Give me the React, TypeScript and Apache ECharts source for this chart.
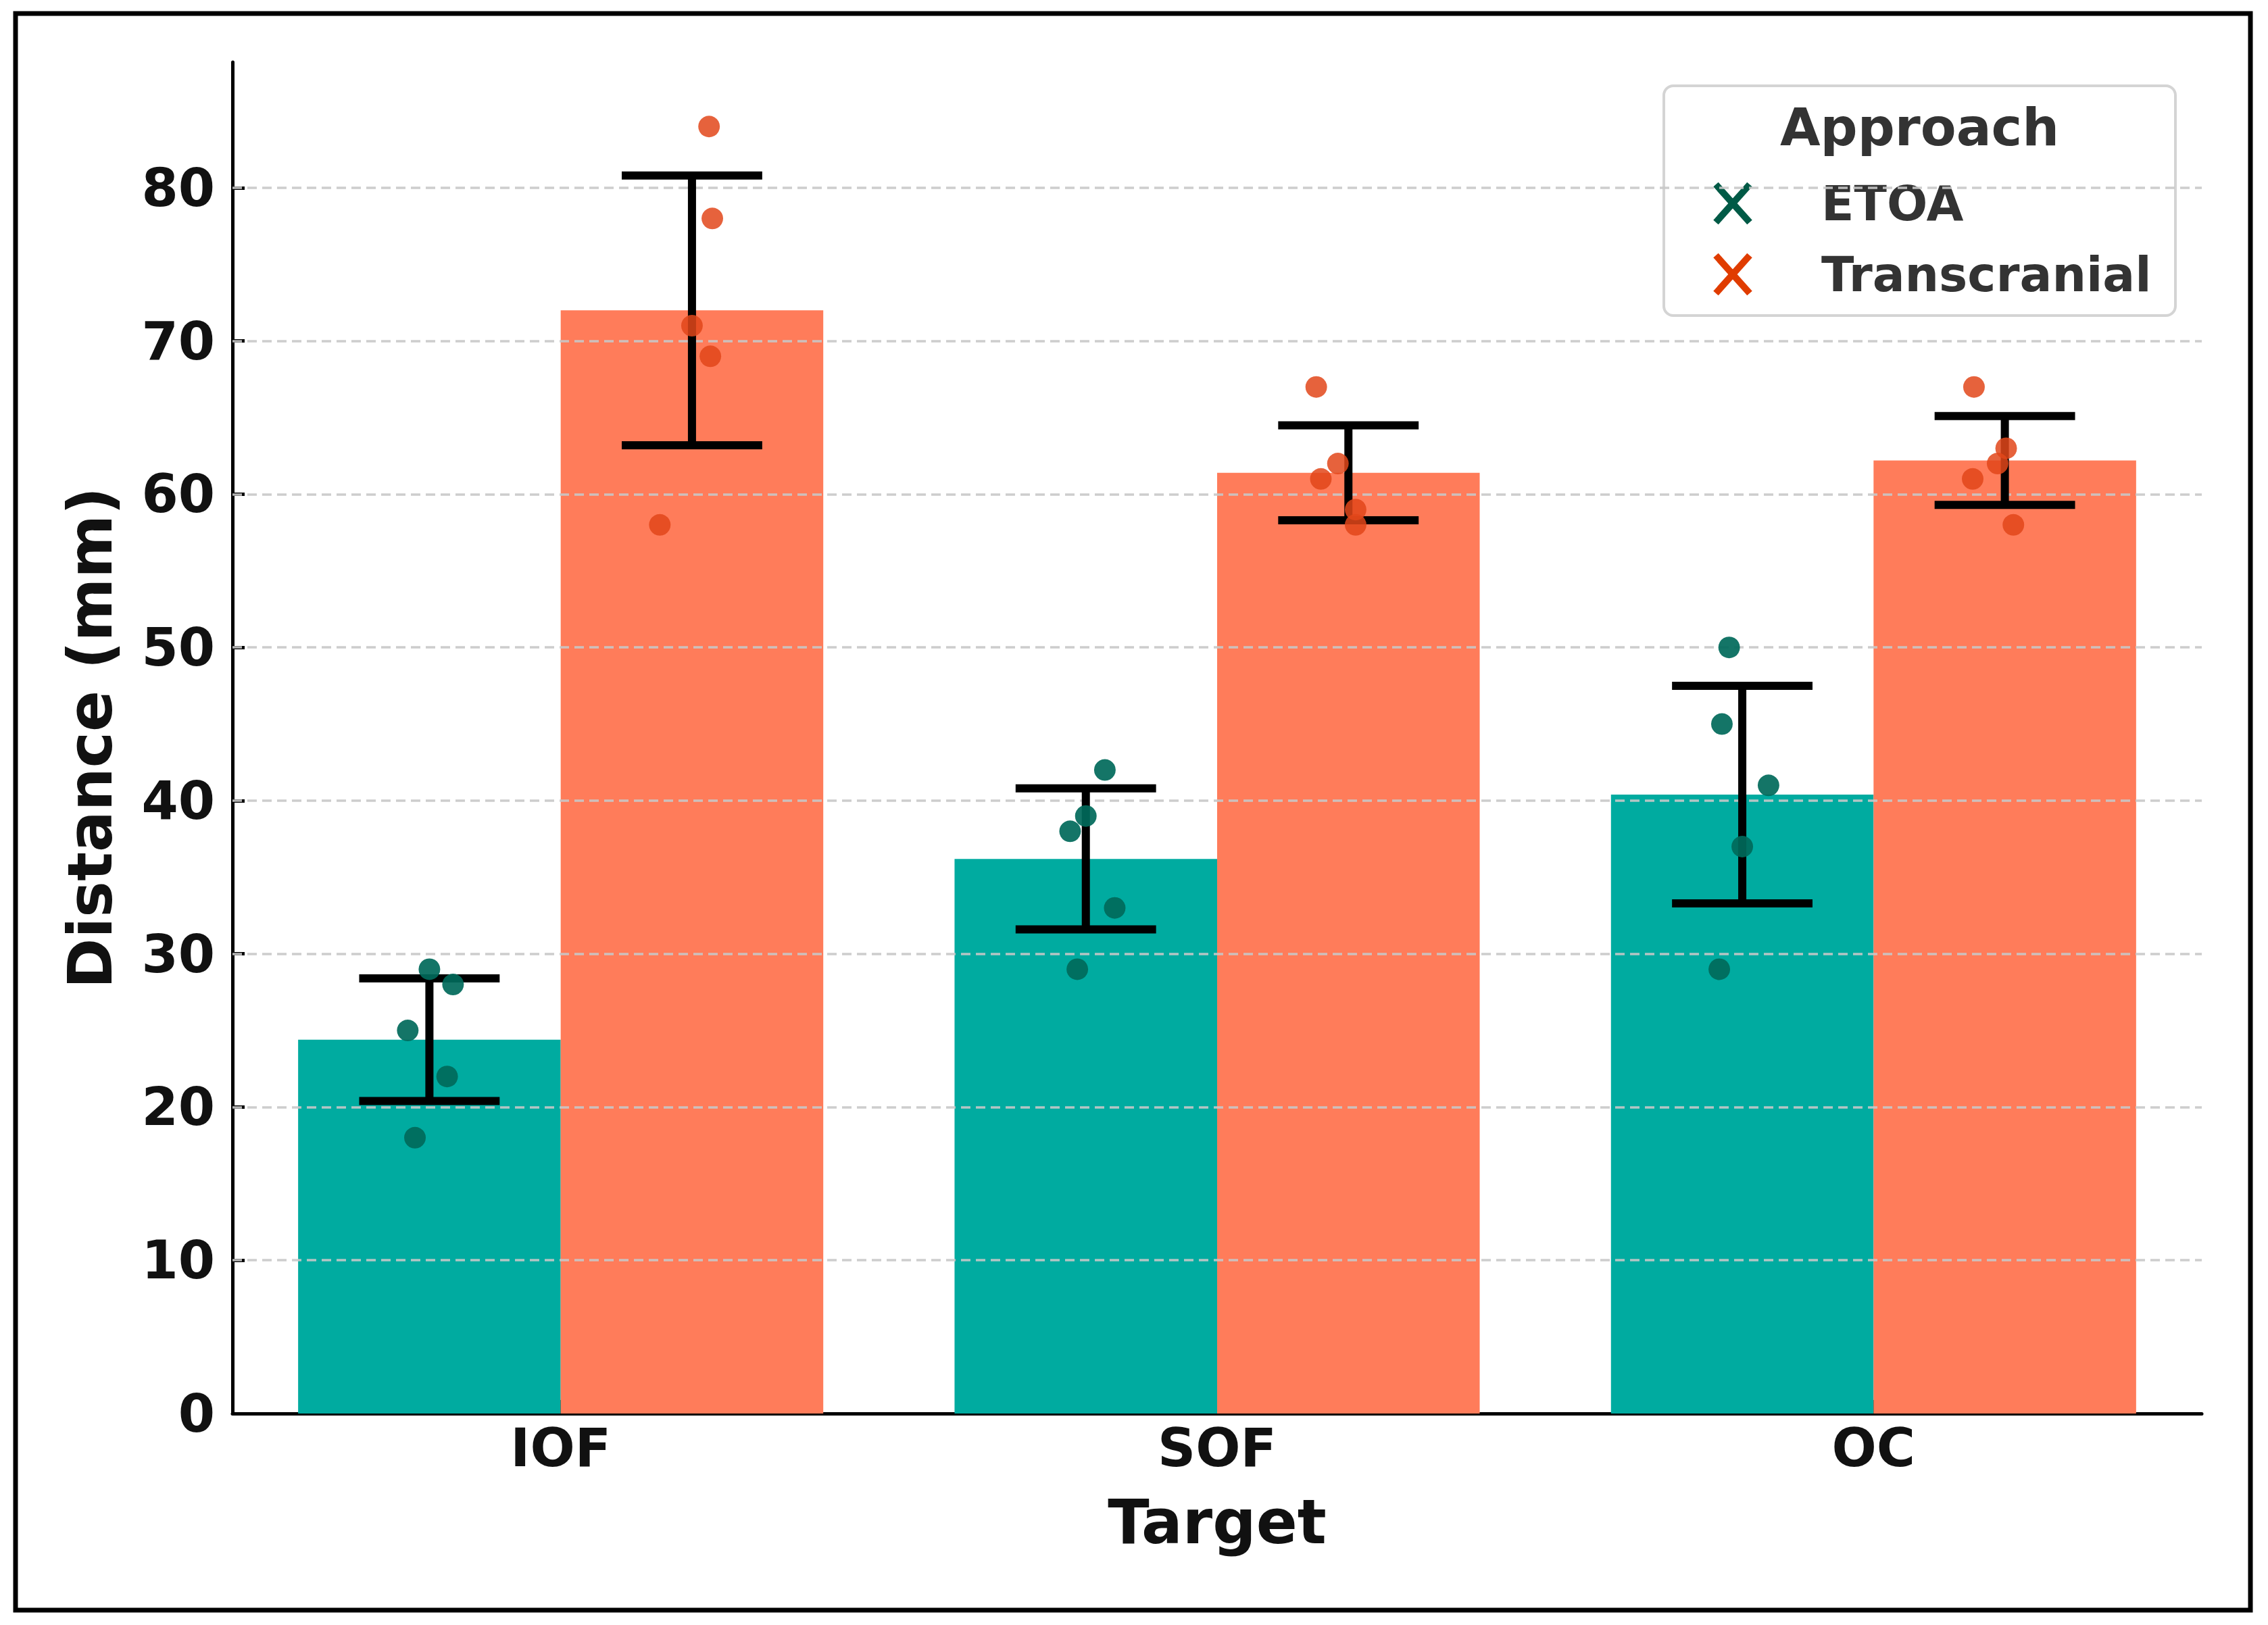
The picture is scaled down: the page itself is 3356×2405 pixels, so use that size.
import React, { useEffect, useRef } from "react";
import * as echarts from "echarts";

// ---- data ----
const categories = ["IOF", "SOF", "OC"];
const seriesNames = ["ETOA", "Transcranial"];
const etoaMean = [24.4, 36.2, 40.4];
const transMean = [72.0, 61.4, 62.2];
const etoaSd = [4.0, 4.6, 7.1];
const transSd = [8.8, 3.1, 2.9];
// individual observations: [x position in category units, value]
const etoaPoints: [number, number][] = [
  [-0.2, 29], [-0.164, 28], [-0.233, 25], [-0.173, 22], [-0.222, 18],
  [0.829, 42], [0.8, 39], [0.776, 38], [0.844, 33], [0.787, 29],
  [1.78, 50], [1.769, 45], [1.84, 41], [1.8, 37], [1.765, 29],
];
const transPoints: [number, number][] = [
  [0.226, 84], [0.231, 78], [0.2, 71], [0.228, 69], [0.151, 58],
  [1.151, 67], [1.184, 62], [1.158, 61], [1.211, 59], [1.211, 58],
  [2.153, 67], [2.202, 63], [2.189, 62], [2.151, 61], [2.213, 58],
];
const yTicks = [0, 10, 20, 30, 40, 50, 60, 70, 80];
const yMax = 88.2;

// ---- styling ----
const FONT = "DejaVu Sans";
const BAR_COLORS = ["#00ABA0", "#FF7C5A"];
const POINT_COLORS = ["#00695a", "#e2461a"];
const LEGEND_COLORS = ["#005a46", "#e03c00"];
const W = 3356;
const H = 2405;
const GRID = { left: 344, right: 98, top: 92, bottom: 313 };
const BAR_OFFSET = 0.2;
const CAP_HALF = 0.107;
const TICK_FONT = 78;

export default function App() {
  const ref = useRef<HTMLDivElement>(null);

  useEffect(() => {
    document.body.style.margin = "0";
    if (!ref.current) return;
    const chart = echarts.init(ref.current, null, { renderer: "svg", width: W, height: H });

    const errData = (means: number[], sds: number[], off: number) =>
      means.map((m, i) => [i + off, m - sds[i], m + sds[i]]);

    const renderErr = (params: any, api: any) => {
      const x = api.value(0);
      const lo = api.value(1);
      const hi = api.value(2);
      const top = api.coord([x, hi]);
      const bot = api.coord([x, lo]);
      const l = api.coord([x - CAP_HALF, hi])[0];
      const r = api.coord([x + CAP_HALF, hi])[0];
      const st = { stroke: "#000", lineWidth: 12, lineCap: "butt" };
      return {
        type: "group",
        children: [
          { type: "line", shape: { x1: top[0], y1: top[1], x2: bot[0], y2: bot[1] }, style: st },
          { type: "line", shape: { x1: l, y1: top[1], x2: r, y2: top[1] }, style: st },
          { type: "line", shape: { x1: l, y1: bot[1], x2: r, y2: bot[1] }, style: st },
        ],
      };
    };

    const gridLeft = GRID.left;
    const plotRight = W - GRID.right;
    const plotCenterX = (gridLeft + plotRight) / 2;
    const plotCenterY = (GRID.top + (H - GRID.bottom)) / 2;

    // legend layout
    const lg = { x: 2462, y: 127, w: 757, h: 340 };
    const markerX = 2564;
    const textX = 2695;
    const rowsY = [301, 406];
    const xHalf = 25;

    const legendChildren: any[] = [
      {
        type: "rect",
        shape: { x: lg.x, y: lg.y, width: lg.w, height: lg.h, r: 14 },
        style: { fill: "rgba(255,255,255,0.85)", stroke: "#d4d4d4", lineWidth: 4 },
      },
      {
        type: "text",
        style: {
          x: lg.x + lg.w / 2,
          y: 188,
          text: "Approach",
          fill: "#333333",
          font: `bold 77px "${FONT}"`,
          align: "center",
          verticalAlign: "middle",
        },
      },
    ];
    seriesNames.forEach((name, i) => {
      const cy = rowsY[i];
      const st = { stroke: LEGEND_COLORS[i], lineWidth: 10 };
      legendChildren.push(
        { type: "line", shape: { x1: markerX - xHalf, y1: cy - xHalf - 3, x2: markerX + xHalf, y2: cy + xHalf + 3 }, style: st },
        { type: "line", shape: { x1: markerX - xHalf, y1: cy + xHalf + 3, x2: markerX + xHalf, y2: cy - xHalf - 3 }, style: st },
        {
          type: "text",
          style: {
            x: textX,
            y: cy,
            text: name,
            fill: "#333333",
            font: `bold 71px "${FONT}"`,
            align: "left",
            verticalAlign: "middle",
          },
        }
      );
    });

    const option: any = {
      animation: false,
      backgroundColor: "#ffffff",
      grid: { ...GRID, containLabel: false },
      xAxis: [
        {
          type: "category",
          data: categories,
          axisLine: { show: true, onZero: false, lineStyle: { color: "#000", width: 5 } },
          axisTick: { show: true, inside: true, alignWithLabel: true, length: 20, lineStyle: { color: "#000", width: 5 } },
          axisLabel: {
            fontFamily: FONT,
            fontWeight: "bold",
            fontSize: TICK_FONT,
            color: "#111111",
            margin: 51,
            verticalAlign: "middle",
          },
          splitLine: { show: false },
        },
        {
          type: "value",
          min: -0.5,
          max: 2.5,
          show: false,
          splitLine: { show: false },
        },
      ],
      yAxis: {
        type: "value",
        min: 0,
        max: yMax,
        interval: 10,
        position: "left",
        axisLine: { show: true, onZero: false, lineStyle: { color: "#000", width: 5 } },
        axisTick: { show: true, inside: true, length: 18, lineStyle: { color: "#000", width: 5 }, customValues: yTicks },
        axisLabel: {
          fontFamily: FONT,
          fontWeight: "bold",
          fontSize: TICK_FONT,
          color: "#111111",
          margin: 26,
          customValues: yTicks,
        },
        splitLine: { show: false },
      },
      series: [
        {
          name: seriesNames[0],
          type: "bar",
          xAxisIndex: 0,
          data: etoaMean,
          barWidth: "40%",
          barGap: "0%",
          itemStyle: { color: BAR_COLORS[0] },
          z: 2,
        },
        {
          name: seriesNames[1],
          type: "bar",
          xAxisIndex: 0,
          data: transMean,
          barWidth: "40%",
          barGap: "0%",
          itemStyle: { color: BAR_COLORS[1] },
          z: 2,
        },
        {
          name: "grid",
          type: "scatter",
          xAxisIndex: 1,
          data: [],
          z: 3,
          silent: true,
          markLine: {
            silent: true,
            symbol: ["none", "none"],
            label: { show: false },
            lineStyle: { type: [14, 8], color: "rgba(200,200,200,0.9)", width: 3.5 },
            data: yTicks.filter((v) => v > 0).map((v) => ({ yAxis: v })),
            z: 3,
          },
        },
        {
          name: "err-etoa",
          type: "custom",
          xAxisIndex: 1,
          data: errData(etoaMean, etoaSd, -BAR_OFFSET),
          renderItem: renderErr,
          z: 4,
          silent: true,
        },
        {
          name: "err-trans",
          type: "custom",
          xAxisIndex: 1,
          data: errData(transMean, transSd, BAR_OFFSET),
          renderItem: renderErr,
          z: 4,
          silent: true,
        },
        {
          name: "pts-etoa",
          type: "scatter",
          xAxisIndex: 1,
          data: etoaPoints,
          symbolSize: 32,
          itemStyle: { color: POINT_COLORS[0], opacity: 0.92 },
          z: 5,
        },
        {
          name: "pts-trans",
          type: "scatter",
          xAxisIndex: 1,
          data: transPoints,
          symbolSize: 32,
          itemStyle: { color: POINT_COLORS[1], opacity: 0.85 },
          z: 5,
        },
      ],
      graphic: [
        {
          type: "rect",
          z: 200,
          silent: true,
          shape: { x: 23, y: 20, width: 3307, height: 2363 },
          style: { fill: "none", stroke: "#000", lineWidth: 7 },
        },
        {
          type: "text",
          z: 100,
          style: {
            x: plotCenterX,
            y: 2252,
            text: "Target",
            fill: "#111111",
            font: `bold 90px "${FONT}"`,
            align: "center",
            verticalAlign: "middle",
          },
        },
        {
          type: "text",
          z: 100,
          x: 133,
          y: plotCenterY,
          rotation: Math.PI / 2,
          style: {
            x: 0,
            y: 0,
            text: "Distance (mm)",
            fill: "#111111",
            font: `bold 90px "${FONT}"`,
            align: "center",
            verticalAlign: "middle",
          },
        },
        { type: "group", z: 150, children: legendChildren },
      ],
    };

    chart.setOption(option);
    return () => chart.dispose();
  }, []);

  return <div ref={ref} style={{ width: W, height: H }} />;
}
